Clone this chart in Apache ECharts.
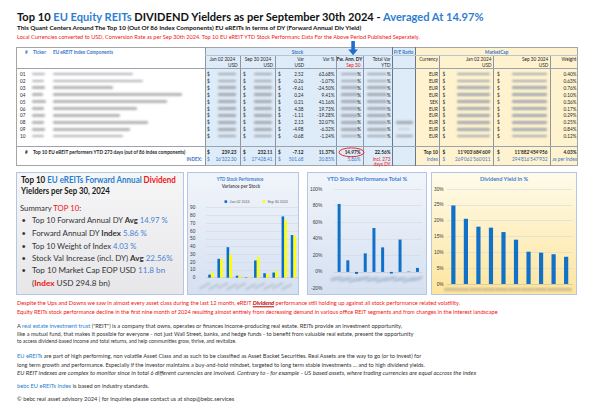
<!DOCTYPE html>
<html><head><meta charset="utf-8">
<script src="https://cdn.jsdelivr.net/npm/echarts@6.0.0/dist/echarts.min.js"></script>
<style>
html,body{margin:0;padding:0;background:#fff}
#page{width:600px;height:418px;overflow:hidden;position:relative;font-family:Lato,'Open Sans',sans-serif;color:#262626}
.a{position:absolute;white-space:nowrap;line-height:1;z-index:3}
.r{position:absolute;box-sizing:border-box;z-index:1}
.bl{position:absolute;filter:blur(0.9px);border-radius:1px;z-index:2}
.vl{position:absolute;width:0;border-left:0.8px solid #8d96a3;z-index:2}
.hl{position:absolute;height:0;border-top:0.8px solid #9aa3ae;z-index:2}
.ch{position:absolute;z-index:50;pointer-events:none}
.bu{color:#2f7dd1}
.rd{color:#f01414}
b{font-weight:bold}
</style></head><body>
<div id="page"></div>
<script>
// ---------------- DATA ----------------
const stockIds = ['01','02','03','04','05','06','07','08','09','10'];
const janPriceUsd = [3.96, 24.30, 39.22, 2.55, 0.51, 22.20, 5.76, 6.64, 78.80, 54.84];
const sepPriceUsd = [6.48, 24.04, 29.61, 2.79, 0.72, 26.58, 4.65, 8.77, 73.82, 54.16];
const varUsd = [2.52, -0.26, -9.61, 0.24, 0.21, 4.38, -1.11, 2.13, -4.98, -0.68];
const varPct = [63.68, -1.07, -24.50, 9.41, 41.16, 19.73, -19.28, 32.07, -6.32, -1.24];
const totalVarYtdPct = [82.0, 14.0, -2.4, 22.4, 53.0, 29.6, -2.0, 39.0, 0.5, 4.8];
const divYieldPct = [24.8, 20.6, 18.1, 17.8, 16.4, 14.0, 10.2, 9.9, 9.4, 8.6];
const currency = ['EUR','EUR','EUR','EUR','SEK','EUR','EUR','EUR','EUR','EUR'];
const weightPct = [0.40, 0.63, 0.76, 0.10, 0.36, 0.17, 0.29, 0.25, 0.84, 0.12];
const priceTicks = [0,10,20,30,40,50,60,70,80,90];
const totalVarTicks = [-20,0,20,40,60,80,100];
const yieldTicks = [0,5,10,15,20,25,30];
const top10Row = ['239.23','232.11','-7.12','11.37%','14.97%','22.56%','Top 10',"11'903'684'609","11'882'454'956",'4.03%'];
const indexRow = ["16'322.30","17'428.41",'501.68','20.85%','5.86%','incl. 273','Index',"269'061'560'011","294'816'547'932",'as per Index'];

const B = document.getElementById('page');

// ---------------- HELPERS ----------------
function T(x,y,txt,o){
  o=o||{};
  const d=document.createElement('div');
  d.className='a'; d.innerHTML=txt;
  const s=d.style;
  s.left=x+'px'; s.top=y+'px';
  s.fontSize=(o.fs||4.7)+'px';
  if(o.c) s.color=o.c;
  if(o.b) s.fontWeight='bold';
  if(o.i) s.fontStyle='italic';
  const al=o.al||'l';
  d.dataset.al=al;
  s.transformOrigin=(al==='l'?'left':al==='r'?'right':'center')+' center';
  s.transform='translate('+(al==='r'?'-100%':al==='c'?'-50%':'0')+',-50%)';
  if(o.w) d.dataset.w=o.w;
  B.appendChild(d); return d;
}
function R(x,y,w,h,css){
  const d=document.createElement('div'); d.className='r';
  d.style.cssText+='left:'+x+'px;top:'+y+'px;width:'+w+'px;height:'+h+'px;'+(css||'');
  B.appendChild(d); return d;
}
function BL(x,y,w,h,c,rot){
  const d=document.createElement('div'); d.className='bl';
  d.style.cssText+='left:'+x+'px;top:'+(y-h/2)+'px;width:'+w+'px;height:'+h+'px;background:'+(c||'#9a9a9a')+';'+(rot?'transform:rotate('+rot+'deg);transform-origin:right center;':'');
  B.appendChild(d); return d;
}
function VL(x,y1,y2,c){const d=document.createElement('div');d.className='vl';d.style.cssText+='left:'+x+'px;top:'+y1+'px;height:'+(y2-y1)+'px;'+(c?'border-left-color:'+c+';':'');B.appendChild(d);}
function HL(x1,x2,y,c){const d=document.createElement('div');d.className='hl';d.style.cssText+='left:'+x1+'px;top:'+y+'px;width:'+(x2-x1)+'px;'+(c?'border-top-color:'+c+';':'');B.appendChild(d);}
function fit(){
  document.querySelectorAll('[data-w]').forEach(d=>{
    const al=d.dataset.al;
    const tr='translate('+(al==='r'?'-100%':al==='c'?'-50%':'0')+',-50%)';
    d.style.transform=tr;
    const nw=d.offsetWidth;
    if(nw>0) d.style.transform=tr+' scaleX('+(parseFloat(d.dataset.w)/nw)+')';
  });
}

// ---------------- HEADER TEXT ----------------
T(17,15.7,'Top 10 <span class="bu">EU Equity REITs</span> DIVIDEND Yielders as per September 30th 2024 - <span class="bu">Averaged At 14.97%</span>',{fs:11,b:1,w:466,c:'#111'});
T(17,28.3,'This Quant Centers Around The Top 10 (Out Of 86 Index Components) EU eREITs in terms of DY (Forward Annual Div Yield)',{fs:5.6,b:1,w:344,c:'#111'});
T(17,37.7,'Local Currencies converted to USD, Conversion Rate as per Sep 30th 2024. Top 10 EU eREIT YTD Stock Performanc Data For the Above Period Published Seperately.',{fs:5.2,w:403,c:'#f01414'});

// ---------------- TABLE ----------------
const TT=47, TB=166;
R(16,TT,562,TB-TT,'border:1.2px solid #a5a5a5;background:#fff;');
R(205,TT+0.6,187,TB-TT-1.2,'background:#deebf8;');
R(392,TT+0.6,23,TB-TT-1.2,'background:#deebf8;');
R(415,TT+0.6,162.4,TB-TT-1.2,'background:#fff3cf;');
VL(205,TT,TB,'#8d96a3');VL(392,TT,TB,'#6d7682');VL(415,TT,TB,'#6d7682');
[239.5,275,336,362.5,439.3,493.3,550].forEach(x=>VL(x,55,TB));
HL(205,578,55,'#b8c4d2');
HL(16,578,68.3);
HL(16,578,146);

T(25,51.7,'#',{c:'#3a78c9',b:1});
T(33,51.7,'Ticker',{c:'#3a78c9',b:1});
T(53,51.7,'EU eREIT Index Components',{c:'#3a78c9',b:1});
T(297.5,51.7,'Stock',{c:'#3a78c9',b:1,al:'c'});
T(403.5,51.7,'P/E Ratio',{c:'#3a78c9',b:1,al:'c'});
T(496.7,51.7,'MarketCap',{c:'#3a78c9',b:1,al:'c'});
T(222.5,59.3,'Jan 02 2024',{al:'c'}); T(237.5,64.6,'USD',{al:'r'});
T(258,59.3,'Sep 30 2024',{al:'c'}); T(273,64.6,'USD',{al:'r'});
T(304,59.3,'Var',{al:'r'}); T(304,64.6,'USD',{al:'r'});
T(334.5,59.3,'Var %',{al:'r'});
T(349.5,59.3,'Fw. Ann. DY',{al:'c',b:1});
T(360.5,64.6,'Sep 30',{al:'r',c:'#f01414'});
T(390.5,59.3,'Total Var',{al:'r'}); T(390.5,64.6,'YTD',{al:'r'});
T(438,59.3,'Currency',{al:'r'});
T(491.5,59.3,'Jan 02 2024',{al:'r'}); T(491.5,64.6,'USD',{al:'r'});
T(548.3,59.3,'Sep 30 2024',{al:'r'}); T(548.3,64.6,'USD',{al:'r'});
T(576.5,59.3,'Weight',{al:'r'});

const nameEnds=[133,143,113,182,167,137,120,148,130,123];
const tickW=[13,12,13,11,14,12,13,12,13,12];
const ROW0=74, ROWH=6.9;
const gr='#b4b4b4', gv='#a3a9b0';
stockIds.forEach((id,i)=>{
  const y=ROW0+i*ROWH;
  T(20,y,id);
  BL(32,y,tickW[i],2.8,gr);
  BL(53,y,nameEnds[i]-53,2.8,gr);
  T(207,y,'$'); BL(218,y,18,2.8,gv);
  T(243,y,'$'); BL(254,y,18,2.8,gv);
  T(278,y,'$'); T(303.5,y,varUsd[i].toFixed(2),{al:'r'});
  T(334.5,y,varPct[i].toFixed(2)+'%',{al:'r'});
  BL(341,y,17,2.8,gv); T(361,y,'%',{al:'r'});
  BL(367,y,20,2.8,gv); T(390.7,y,'%',{al:'r'});
  T(438,y,currency[i],{al:'r'});
  T(442.5,y,'$'); BL(457,y,33,2.8,gv);
  T(497,y,'$'); BL(512,y,35,2.8,gv);
  T(576.5,y,weightPct[i].toFixed(2)+'%',{al:'r'});
});
BL(396,ROW0+7*ROWH,17,2.8,gv);
BL(398,ROW0+8*ROWH,12,1.6,'#cdd2d8');
BL(396,ROW0+9*ROWH,17,2.8,gv);

const ys=152.3, yi=158.5;
T(25,ys,'#',{b:1});
T(33,ys,'Top 10 EU eREIT performers YTD 273 days (out of 86 index components)',{b:1,w:152});
T(207,ys,'$',{b:1}); T(236.5,ys,top10Row[0],{al:'r',b:1});
T(243,ys,'$',{b:1}); T(272.5,ys,top10Row[1],{al:'r',b:1});
T(278,ys,'$',{b:1}); T(303.5,ys,top10Row[2],{al:'r',b:1});
T(334.5,ys,top10Row[3],{al:'r',b:1});
T(360.5,ys,top10Row[4],{al:'r',b:1});
T(390.5,ys,top10Row[5],{al:'r',b:1});
T(438,ys,top10Row[6],{al:'r',b:1});
T(442.5,ys,'$',{b:1}); T(490.5,ys,top10Row[7],{al:'r',b:1});
T(497,ys,'$',{b:1}); T(547.5,ys,top10Row[8],{al:'r',b:1});
T(576.5,ys,top10Row[9],{al:'r',b:1});
const cb='#3a78c9';
T(202,yi,'INDEX:',{al:'r',b:1,c:cb});
T(207,yi,'$',{c:cb}); T(236.5,yi,indexRow[0],{al:'r',c:cb});
T(243,yi,'$',{c:cb}); T(272.5,yi,indexRow[1],{al:'r',c:cb});
T(278,yi,'$',{c:cb}); T(303.5,yi,indexRow[2],{al:'r',c:cb});
T(334.5,yi,indexRow[3],{al:'r',c:cb});
T(360.5,yi,indexRow[4],{al:'r',c:cb});
T(390.5,yi,indexRow[5],{al:'r',c:'#f01414'});
T(390.5,164.3,'days DY',{al:'r',c:'#f01414'});
T(438,yi,indexRow[6],{al:'r',c:cb});
T(442.5,yi,'$',{c:cb}); T(490.5,yi,indexRow[7],{al:'r',c:cb});
T(497,yi,'$',{c:cb}); T(547.5,yi,indexRow[8],{al:'r',c:cb});
T(577,yi,indexRow[9],{al:'r',c:cb});

// arrow + ellipse
const svg=document.createElementNS('http://www.w3.org/2000/svg','svg');
svg.setAttribute('width','600');svg.setAttribute('height','418');
svg.style.cssText='position:absolute;left:0;top:0;z-index:4;pointer-events:none';
svg.innerHTML='<path d="M351.3 41 h3.6 v8.5 h3 l-4.8 5.8 l-4.8 -5.8 h3 z" fill="#1d6fd0"/>'+
 '<ellipse cx="351.5" cy="152.3" rx="12.5" ry="4.4" fill="none" stroke="#f01414" stroke-width="0.9"/>';
B.appendChild(svg);

// ---------------- LOWER BOXES ----------------
R(16,172,167.5,122.5,'border:1px solid #b3c6e6;background:linear-gradient(#f6f6f7,#e7e7ea);');
R(187,172,112,123,'border:1px solid #b3c6e6;background:linear-gradient(#f1f5fb,#d5e0f1);');
R(307,172,120,123,'border:1px solid #b3c6e6;background:linear-gradient(#f1f5fb,#d5e0f1);');
R(431,172,146,122.5,'border:1px solid #b3c6e6;background:linear-gradient(#fffbea,#fde59e);');

T(20.7,180,'Top 10 <span style="color:#2a7fcf">EU eREITs Forward Annual</span> <span class="rd">Dividend</span>',{fs:8.6,b:1,w:154.5,c:'#1a1a1a'});
T(20.7,190.7,'Yielders per Sep 30, 2024',{fs:8.6,b:1,w:89,c:'#1a1a1a'});
const sb='#4a7fd4', st='#333';
T(20,209.3,'Summary <span class="rd">TOP 10</span>:',{fs:7.6,w:61,c:st});
const bullets=[
 ['Top 10 Forward Annual DY <b>Avg</b> <span style="color:'+sb+'">14.97 %</span>',136],
 ['Forward Annual DY <b>Index</b> <span style="color:'+sb+'">5.86 %</span>',114.7],
 ['Top 10 Weight of Index <span style="color:'+sb+'">4.03 %</span>',104.7],
 ['Stock Val Increase (incl. DY) <b>Avg</b> <span style="color:'+sb+'">22.56%</span>',141],
 ['Top 10 Market Cap EOP USD <span style="color:'+sb+'">11.8 bn</span>',133]
];
const by=[221,233.8,246.5,258.6,271];
bullets.forEach((b,i)=>{T(21.5,by[i],'•',{fs:7.6,c:st});T(32,by[i],b[0],{fs:7.6,w:b[1],c:st});});
T(32,284.2,'(<b class="rd">Index</b> USD 294.8 bn)',{fs:7.6,w:78,c:st});

// chart titles
T(240,179.7,'YTD Stock Performance',{fs:5.4,b:1,al:'c',w:47,c:'#3d7fd0'});
T(241,187.3,'Variance per Stock',{fs:5.4,b:1,al:'c',w:39,c:'#595959'});
T(366.7,180,'YTD Stock Performance Total %',{fs:5.4,b:1,al:'c',w:80,c:'#3d7fd0'});
T(504,180,'Dividend Yield in %',{fs:5.4,b:1,al:'c',w:47.7,c:'#3d7fd0'});

// blurred category labels
for(let i=0;i<10;i++){
  const cx1=206+9.2*(i+0.5);
  BL(cx1-13,283+ (i%2)*0.6,12,1.8,'#b9c2cf',-28);
  const cx2=331.5+9.03*(i+0.5);
  BL(cx2-6,276.5+(i%3),12,2,'#b3c0d3',-15);
}
BL(331,279,90,4.5,'rgba(170,186,210,0.4)');
for(let i=0;i<10;i++){ const cx3=443.6+12.88*(i+0.5); BL(cx3-6.5,289.5,13,2.2,'#cdbd92'); }

// ---------------- LOWER TEXT ----------------
T(17,304.3,'Despite the Ups and Downs we saw in almost every asset class during the last 12 month, eREIT <b><i><u style="color:#c00000">Dividend</u></i></b> performance still holding up against all stock performance related volatility.',{fs:5.4,w:443,c:'#f01414'});
T(17,313,'Equity REITs stock performance decline in the first nine month of 2024 resulting almost entirely from decreasing demand in various office REIT segments and from changes in the interest landscape',{fs:5.4,w:481,c:'#f01414'});
T(17,327.3,'A <span style="color:#2a7fcf">real estate investment trust</span> (&quot;REIT&quot;) is a company that owns, operates or finances income-producing real estate. REITs provide an investment opportunity,',{fs:5.4,w:385,c:'#333'});
T(17,334.5,'like a mutual fund, that makes it possible for everyone - not just Wall Street, banks, and hedge funds - to benefit from valuable real estate, present the opportunity',{fs:5.4,w:396,c:'#333'});
T(17,341.8,'to access dividend-based income and total returns, and help communities grow, thrive, and revitalize.',{fs:5.4,w:219,c:'#333'});
T(17,356.7,'<span style="color:#2a7fcf">EU eREITs</span> are part of high performing, non volatile Asset Class and as such to be classified as Asset Backet Securities. Real Assets are the way to go (or to invest) for',{fs:5.4,w:404,c:'#333'});
T(17,365.5,'long term growth and performance. Especially if the investor maintains a buy-and-hold mindset, targeted to long term stable investments ... and to high dividend yields.',{fs:5.4,w:408,c:'#333'});
T(17,374,'EU REIT indexes are complex to monitor since in total 6 different currencies are involved. Contrary to - for example - US based assets, where trading currencies are equal accross the index',{fs:5.4,w:459,i:1,c:'#333'});
T(17,387,'<span style="color:#2a7fcf">bebc EU eREITs Index</span> is based on industry standards.',{fs:5.4,w:132,c:'#333'});
T(17,399.5,'© bebc real asset advisory 2024 | for inquiries please contact us at shop@bebc.services',{fs:5.4,w:217,c:'#333'});

fit();
if(document.fonts&&document.fonts.ready) document.fonts.ready.then(fit);

// ---------------- CHARTS: one instance per chart box, SVG renderer ----------------
function box(x,y,w,h){
  const d=document.createElement('div'); d.className='ch';
  d.style.cssText+='left:'+x+'px;top:'+y+'px;width:'+w+'px;height:'+h+'px;';
  B.appendChild(d); return d;
}
const lbl={fontSize:4.8,color:'#3a3a3a',fontFamily:'sans-serif'};
const split={show:true,lineStyle:{color:'#d4d8de',width:0.6}};
function yA(ticks,fmt,margin){
  return {type:'value',min:ticks[0],max:ticks[ticks.length-1],interval:ticks[1]-ticks[0],
    axisLine:{show:false},axisTick:{show:false},splitLine:split,
    axisLabel:Object.assign({show:true,margin:margin,formatter:fmt,hideOverlap:false},lbl)};
}
function xA(col){
  return {type:'category',data:stockIds,axisTick:{show:false},axisLabel:{show:false},
    axisLine:{show:true,lineStyle:{color:col,width:0.7}}};
}
const c1=echarts.init(box(187,172,112,123),null,{renderer:'svg',width:112,height:123});
c1.setOption({
  animation:false,
  legend:{data:['Jan 02 2024','Sep 30 2024'],left:32.5,top:22.6,icon:'rect',itemWidth:2.6,itemHeight:2.6,itemGap:13,
    textStyle:{fontSize:3.6,color:'#595959',padding:[0,0,0,-2.5]}},
  grid:{left:19,top:35.7,width:92,height:70},
  xAxis:xA('#c4cad3'),
  yAxis:yA(priceTicks,'{value}',11),
  series:[
    {name:'Jan 02 2024',type:'bar',data:janPriceUsd,barWidth:2.6,barGap:'6%',itemStyle:{color:'#0c6fc6'}},
    {name:'Sep 30 2024',type:'bar',data:sepPriceUsd,barWidth:2.6,barGap:'6%',itemStyle:{color:'#ffff00'}}
  ]
});
const c2=echarts.init(box(307,172,120,123),null,{renderer:'svg',width:120,height:123});
c2.setOption({
  animation:false,
  grid:{left:24.5,top:17,width:90.3,height:99.5},
  xAxis:xA('#c4cad3'),
  yAxis:yA(totalVarTicks,'{value}%',12.5),
  series:[{name:'Total Var YTD',type:'bar',data:totalVarYtdPct,barWidth:3,itemStyle:{color:'#1170c8'}}]
});
const c3=echarts.init(box(431,172,146,123),null,{renderer:'svg',width:146,height:123});
c3.setOption({
  animation:false,
  grid:{left:12.6,top:17,width:128.8,height:95},
  xAxis:xA('#d8c690'),
  yAxis:yA(yieldTicks,'{value}%',3.5),
  series:[{name:'Dividend Yield',type:'bar',data:divYieldPct,barWidth:4.2,itemStyle:{color:'#1170c8'}}]
});
</script>
</body></html>
